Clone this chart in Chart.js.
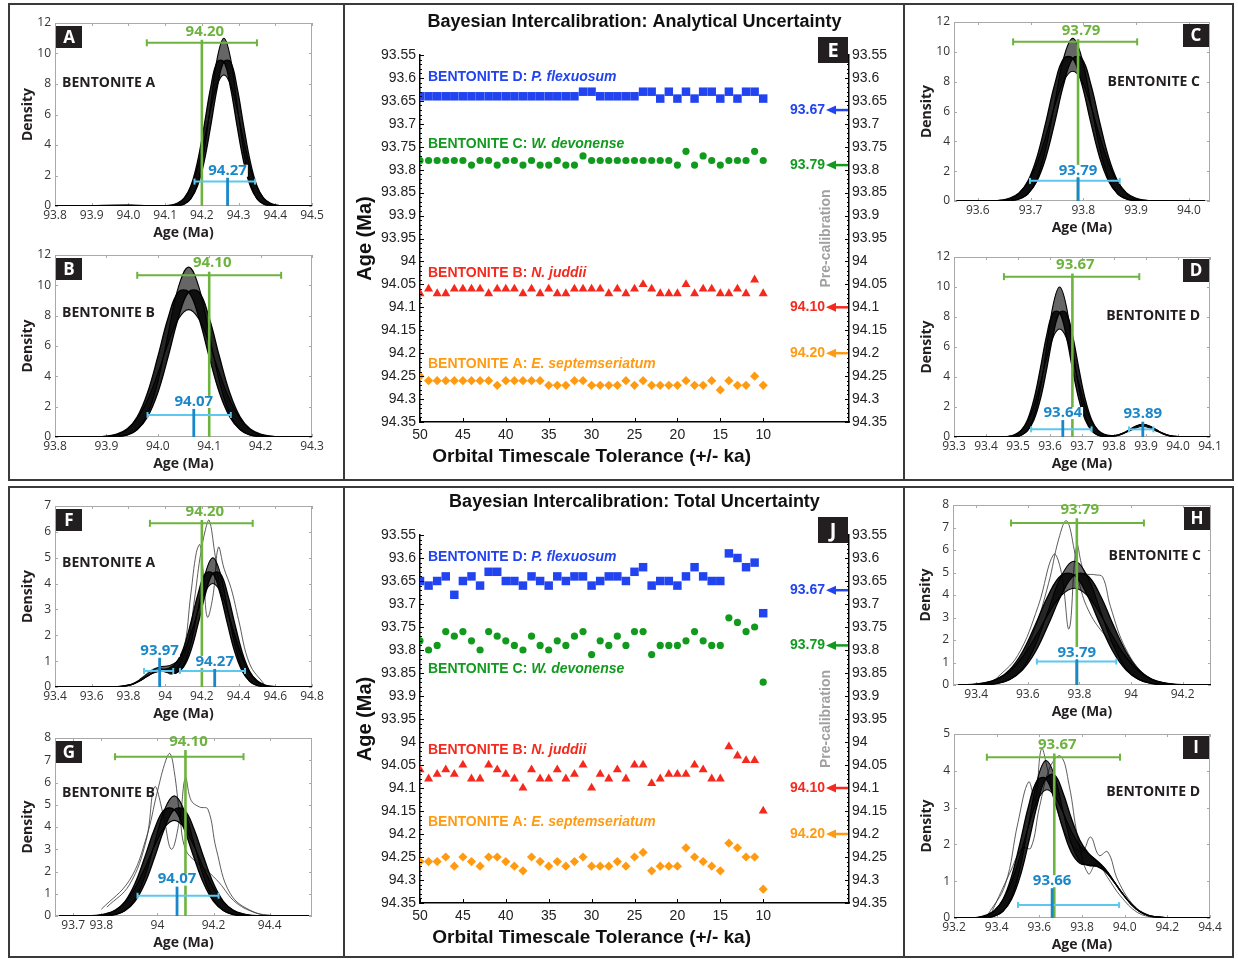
<!DOCTYPE html>
<html>
<head>
<meta charset="utf-8">
<title>Bayesian intercalibration of bentonite ages</title>
<script src="https://cdn.jsdelivr.net/npm/chart.js@4"></script>
<style>
  body { margin: 0; background: #fff; }
  #fig { position: relative; width: 1238px; height: 959px; overflow: hidden; background: #fff; }
  .frame { position: absolute; border: 2px solid #3a3a3a; box-sizing: border-box; }
  #fig canvas { position: absolute; }
</style>
</head>
<body>
<div id="fig">
  <div class="frame" style="left:8px;top:3px;width:337px;height:478px"></div>
  <div class="frame" style="left:343px;top:3px;width:562px;height:478px"></div>
  <div class="frame" style="left:903px;top:3px;width:331px;height:478px"></div>
  <div class="frame" style="left:8px;top:486px;width:337px;height:472px"></div>
  <div class="frame" style="left:343px;top:486px;width:562px;height:472px"></div>
  <div class="frame" style="left:903px;top:486px;width:331px;height:472px"></div>
  <canvas id="panelA"></canvas>
  <canvas id="panelB"></canvas>
  <canvas id="panelC"></canvas>
  <canvas id="panelD"></canvas>
  <canvas id="panelF"></canvas>
  <canvas id="panelG"></canvas>
  <canvas id="panelH"></canvas>
  <canvas id="panelI"></canvas>
  <canvas id="panelE"></canvas>
  <canvas id="panelJ"></canvas>
</div>
<script>
// ---- scatter panels (E, J): age of each bentonite vs orbital timescale tolerance ----
const tolerance = [50,49,48,47,46,45,44,43,42,41,40,39,38,37,36,35,34,33,32,31,30,29,28,27,26,25,24,23,22,21,20,19,18,17,16,15,14,13,12,11,10];
const toleranceTicks = [50,45,40,35,30,25,20,15,10];
const ageTicks = [93.55,93.6,93.65,93.7,93.75,93.8,93.85,93.9,93.95,94,94.05,94.1,94.15,94.2,94.25,94.3,94.35];

// analytical uncertainty (E)
const anaD = [93.64,93.64,93.64,93.64,93.64,93.64,93.64,93.64,93.64,93.64,93.64,93.64,93.64,93.64,93.64,93.64,93.64,93.64,93.64,93.63,93.63,93.64,93.64,93.64,93.64,93.64,93.63,93.63,93.645,93.63,93.645,93.63,93.645,93.63,93.63,93.645,93.63,93.645,93.63,93.63,93.645];
const anaC = [93.78,93.78,93.78,93.78,93.78,93.78,93.79,93.78,93.78,93.79,93.78,93.78,93.79,93.78,93.79,93.79,93.78,93.79,93.79,93.77,93.78,93.78,93.78,93.78,93.78,93.78,93.78,93.78,93.78,93.78,93.79,93.76,93.79,93.77,93.78,93.79,93.78,93.78,93.78,93.76,93.78];
const anaB = [94.07,94.06,94.07,94.07,94.06,94.06,94.06,94.06,94.07,94.06,94.06,94.06,94.07,94.06,94.07,94.06,94.07,94.07,94.06,94.06,94.06,94.06,94.07,94.06,94.07,94.06,94.05,94.06,94.07,94.07,94.07,94.05,94.07,94.06,94.06,94.07,94.07,94.06,94.07,94.04,94.07];
const anaA = [94.25,94.26,94.26,94.26,94.26,94.26,94.26,94.26,94.26,94.27,94.26,94.26,94.26,94.26,94.26,94.27,94.27,94.27,94.26,94.26,94.27,94.27,94.27,94.27,94.26,94.27,94.26,94.27,94.27,94.27,94.27,94.26,94.27,94.27,94.26,94.28,94.26,94.27,94.27,94.25,94.27];

// total uncertainty (J)
const totD = [93.65,93.66,93.65,93.64,93.68,93.65,93.64,93.66,93.63,93.63,93.65,93.65,93.66,93.64,93.65,93.66,93.64,93.65,93.64,93.64,93.66,93.65,93.64,93.64,93.65,93.63,93.62,93.66,93.65,93.65,93.66,93.64,93.62,93.64,93.65,93.65,93.59,93.60,93.62,93.61,93.72];
const totC = [93.78,93.80,93.79,93.76,93.77,93.76,93.78,93.80,93.76,93.77,93.78,93.79,93.80,93.77,93.79,93.80,93.78,93.79,93.77,93.76,93.81,93.78,93.79,93.77,93.79,93.76,93.76,93.81,93.79,93.79,93.79,93.78,93.76,93.78,93.79,93.79,93.73,93.74,93.76,93.75,93.87];
const totB = [94.06,94.08,94.07,94.06,94.07,94.05,94.08,94.08,94.05,94.06,94.07,94.08,94.10,94.06,94.08,94.08,94.06,94.08,94.07,94.05,94.10,94.07,94.08,94.06,94.08,94.05,94.05,94.09,94.08,94.07,94.07,94.07,94.05,94.06,94.08,94.08,94.01,94.03,94.04,94.04,94.15];
const totA = [94.26,94.26,94.26,94.25,94.27,94.25,94.26,94.27,94.25,94.25,94.26,94.27,94.28,94.25,94.26,94.27,94.26,94.27,94.26,94.25,94.27,94.27,94.27,94.26,94.27,94.25,94.24,94.28,94.27,94.27,94.27,94.23,94.25,94.26,94.27,94.28,94.22,94.23,94.25,94.25,94.32];

const seriesNames = ['BENTONITE D: ', 'BENTONITE C: ', 'BENTONITE B: ', 'BENTONITE A: '];
const speciesNames = ['P. flexuosum', 'W. devonense', 'N. juddii', 'E. septemseriatum'];
const preCalibration = [93.67, 93.79, 94.10, 94.20];

// ---- density panels: a few posterior density curves per bentonite ----
const aX = [93.8,94.0,94.08,94.098,94.116,94.134,94.152,94.17,94.188,94.206,94.224,94.242,94.26,94.278,94.296,94.314,94.332,94.35,94.368,94.386,94.404,94.422,94.5];
const aHi = [0,0.04,0,0,0,0.02,0.12,0.48,1.49,3.57,6.67,9.71,11,9.71,6.67,3.57,1.49,0.48,0.12,0.02,0,0,0];
const aLo = [0,0.04,0.01,0.02,0.06,0.2,0.54,1.26,2.51,4.3,6.32,7.96,8.6,7.96,6.32,4.3,2.51,1.26,0.54,0.2,0.06,0.02,0];
const aMidL = [0,0.04,0,0.01,0.04,0.15,0.49,1.31,2.89,5.23,7.77,9.46,9.46,7.77,5.23,2.89,1.31,0.49,0.15,0.04,0.01,0,0];
const aMidR = [0,0.04,0,0,0.01,0.04,0.15,0.49,1.31,2.89,5.23,7.77,9.46,9.46,7.77,5.23,2.89,1.31,0.49,0.15,0.04,0.01,0];

const bX = [93.8,93.88,93.9,93.92,93.94,93.96,93.98,94.0,94.02,94.04,94.06,94.08,94.1,94.12,94.14,94.16,94.18,94.2,94.22,94.24,94.3];
const bHi = [0,0,0,0.02,0.12,0.49,1.52,3.64,6.79,9.88,11.2,9.88,6.79,3.64,1.52,0.49,0.12,0.02,0,0,0];
const bLo = [0,0.02,0.06,0.19,0.53,1.23,2.45,4.2,6.18,7.78,8.4,7.78,6.18,4.2,2.45,1.23,0.53,0.19,0.06,0.02,0];
const bMidL = [0,0.01,0.04,0.15,0.49,1.33,2.92,5.29,7.85,9.56,9.56,7.85,5.29,2.92,1.33,0.49,0.15,0.04,0.01,0,0];
const bMidR = [0,0,0.01,0.04,0.15,0.49,1.33,2.92,5.29,7.85,9.56,9.56,7.85,5.29,2.92,1.33,0.49,0.15,0.04,0.01,0];

const cX = [93.56,93.627,93.644,93.661,93.678,93.695,93.712,93.729,93.746,93.763,93.78,93.797,93.814,93.831,93.848,93.865,93.882,93.899,93.916,93.933,94.03];
const cHi = [0,0,0,0.02,0.12,0.48,1.47,3.54,6.61,9.62,10.9,9.62,6.61,3.54,1.47,0.48,0.12,0.02,0,0,0];
const cLo = [0,0.02,0.06,0.2,0.55,1.27,2.54,4.35,6.4,8.06,8.7,8.06,6.4,4.35,2.54,1.27,0.55,0.2,0.06,0.02,0];
const cMidL = [0,0.01,0.04,0.15,0.49,1.33,2.92,5.29,7.85,9.56,9.56,7.85,5.29,2.92,1.33,0.49,0.15,0.04,0.01,0,0];
const cMidR = [0,0,0.01,0.04,0.15,0.49,1.33,2.92,5.29,7.85,9.56,9.56,7.85,5.29,2.92,1.33,0.49,0.15,0.04,0.01,0];

const dX = [93.3,93.45,93.47,93.49,93.51,93.53,93.55,93.57,93.59,93.61,93.63,93.65,93.67,93.69,93.71,93.73,93.75,93.77,93.79,93.81,93.83,93.85,93.87,93.89,93.91,93.93,93.95,93.97,93.99,94.01,94.1];
const dHi = [0,0,0,0.02,0.11,0.44,1.35,3.25,6.07,8.83,10,8.83,6.07,3.25,1.35,0.44,0.11,0.03,0.03,0.09,0.23,0.42,0.62,0.7,0.62,0.42,0.23,0.09,0.03,0.01,0];
const dLo = [0,0.01,0.05,0.17,0.45,1.05,2.1,3.6,5.29,6.67,7.2,6.67,5.29,3.6,2.1,1.05,0.45,0.18,0.09,0.12,0.28,0.52,0.75,0.85,0.75,0.52,0.28,0.11,0.04,0.01,0];
const dMidL = [0,0.01,0.03,0.13,0.43,1.15,2.53,4.58,6.81,8.29,8.29,6.81,4.58,2.53,1.15,0.43,0.13,0.04,0.05,0.11,0.26,0.49,0.71,0.8,0.71,0.49,0.26,0.11,0.04,0.01,0];
const dMidR = [0,0,0.01,0.03,0.13,0.43,1.15,2.53,4.58,6.81,8.29,8.29,6.81,4.58,2.53,1.15,0.43,0.14,0.07,0.12,0.26,0.49,0.71,0.8,0.71,0.49,0.26,0.11,0.04,0.01,0];

const fX = [93.4,93.7,93.74,93.78,93.82,93.86,93.9,93.94,93.98,94.02,94.06,94.1,94.14,94.18,94.22,94.26,94.3,94.34,94.38,94.42,94.46,94.5,94.54,94.58,94.62,94.8];
const fHi = [0,0,0.01,0.04,0.1,0.23,0.41,0.56,0.61,0.55,0.54,0.84,1.68,3.05,4.42,5.0,4.41,3.03,1.62,0.68,0.22,0.06,0.01,0,0,0];
const fLo = [0,0,0.01,0.05,0.12,0.27,0.49,0.68,0.79,0.82,0.96,1.36,2.07,2.96,3.71,4.0,3.7,2.94,2.0,1.17,0.59,0.25,0.09,0.03,0.01,0];
const fMidL = [0,0,0.01,0.04,0.1,0.23,0.41,0.58,0.67,0.72,0.93,1.5,2.49,3.62,4.4,4.39,3.6,2.43,1.34,0.61,0.23,0.07,0.02,0,0,0];
const fMidR = [0,0,0.01,0.04,0.1,0.23,0.41,0.56,0.62,0.56,0.55,0.77,1.4,2.45,3.61,4.39,4.39,3.6,2.43,1.34,0.61,0.23,0.07,0.02,0,0];
const fOut1X = [93.98,94.06,94.12,94.16,94.19,94.22,94.24,94.27,94.31,94.36,94.42,94.5,94.58];
const fOut1Y = [0.6,0.7,1.6,3.4,5.0,6.1,6.45,5.2,3.4,2.4,1.1,0.2,0];
const fOut2X = [93.86,93.96,94.04,94.1,94.14,94.17,94.19,94.21,94.23,94.26,94.29,94.32,94.36,94.4,94.46,94.54];
const fOut2Y = [0.3,0.75,0.5,1.4,3.6,5.2,5.5,4.2,2.7,3.5,5.4,4.6,3.8,2.6,0.9,0.1];

const gX = [93.65,93.745,93.78,93.815,93.85,93.885,93.92,93.955,93.99,94.025,94.06,94.095,94.13,94.165,94.2,94.235,94.27,94.305,94.34,94.375,94.54];
const gHi = [0,0,0,0.01,0.06,0.24,0.73,1.75,3.28,4.77,5.4,4.77,3.28,1.75,0.73,0.24,0.06,0.01,0,0,0];
const gLo = [0,0.01,0.03,0.1,0.27,0.63,1.26,2.15,3.16,3.98,4.3,3.98,3.16,2.15,1.26,0.63,0.27,0.1,0.03,0.01,0];
const gMidL = [0,0,0.02,0.08,0.25,0.66,1.46,2.64,3.92,4.78,4.78,3.92,2.64,1.46,0.66,0.25,0.08,0.02,0,0,0];
const gMidR = [0,0,0,0.02,0.08,0.25,0.66,1.46,2.64,3.92,4.78,4.78,3.92,2.64,1.46,0.66,0.25,0.08,0.02,0,0];
const gOut1X = [93.8,93.9,93.96,94.0,94.03,94.045,94.06,94.08,94.1,94.14,94.18,94.22,94.28,94.36,94.42];
const gOut1Y = [0.3,1.6,3.5,5.6,7.0,7.3,6.5,4.5,3.0,2.4,2.0,1.5,0.6,0.1,0];
const gOut2X = [93.82,93.9,93.96,93.99,94.02,94.05,94.08,94.1,94.12,94.15,94.18,94.21,94.26,94.34,94.42];
const gOut2Y = [0.4,1.4,3.4,5.8,4.6,3.0,4.4,6.2,5.2,4.9,4.8,3.0,1.0,0.2,0];

const hX = [93.33,93.38,93.43,93.48,93.53,93.58,93.63,93.68,93.73,93.78,93.83,93.88,93.93,93.98,94.03,94.08,94.13,94.18,94.23,94.31];
const hHi = [0,0,0.01,0.06,0.24,0.74,1.79,3.34,4.85,5.5,4.85,3.34,1.79,0.74,0.24,0.06,0.01,0,0,0];
const hLo = [0.01,0.03,0.1,0.27,0.63,1.26,2.15,3.16,3.98,4.3,3.98,3.16,2.15,1.26,0.63,0.27,0.1,0.03,0.01,0];
const hMidL = [0,0.02,0.08,0.25,0.68,1.49,2.7,4.0,4.88,4.88,4.0,2.7,1.49,0.68,0.25,0.08,0.02,0,0,0];
const hMidR = [0,0,0.02,0.08,0.25,0.68,1.49,2.7,4.0,4.88,4.88,4.0,2.7,1.49,0.68,0.25,0.08,0.02,0,0];
const hOut1X = [93.45,93.55,93.62,93.68,93.72,93.75,93.78,93.8,93.84,93.9,93.96,94.04,94.12,94.2];
const hOut1Y = [0.1,0.8,2.3,4.5,6.5,7.3,6.0,4.5,3.2,2.2,1.5,0.5,0.1,0];
const hOut2X = [93.47,93.56,93.64,93.7,93.73,93.76,93.79,93.82,93.86,93.89,93.92,93.98,94.06,94.15];
const hOut2Y = [0.2,1.3,3.5,5.8,5.0,2.5,6.2,5.0,4.9,4.8,3.5,1.6,0.4,0];

const iX = [93.2,93.27,93.31,93.35,93.39,93.43,93.47,93.51,93.55,93.59,93.63,93.67,93.71,93.75,93.79,93.83,93.87,93.91,93.95,93.99,94.03,94.07,94.11,94.15,94.19,94.4];
const iHi = [0,0,0,0.01,0.05,0.18,0.57,1.36,2.56,3.74,4.28,3.89,2.93,2.02,1.55,1.43,1.4,1.26,0.98,0.66,0.38,0.18,0.07,0.03,0.01,0];
const iLo = [0,0.01,0.02,0.08,0.21,0.5,0.99,1.7,2.51,3.18,3.48,3.33,2.88,2.36,1.97,1.75,1.56,1.33,1.0,0.67,0.38,0.18,0.07,0.03,0.01,0];
const iMidL = [0,0,0.01,0.06,0.19,0.51,1.13,2.05,3.05,3.74,3.79,3.22,2.43,1.79,1.49,1.44,1.41,1.26,0.98,0.66,0.38,0.18,0.07,0.03,0.01,0];
const iMidR = [0,0,0,0.01,0.06,0.19,0.51,1.13,2.06,3.07,3.79,3.89,3.42,2.71,2.11,1.76,1.54,1.31,0.99,0.66,0.38,0.18,0.07,0.03,0.01,0];
const iOut1X = [93.36,93.44,93.5,93.55,93.58,93.61,93.64,93.68,93.74,93.8,93.84,93.88,93.92,93.97,94.05,94.14];
const iOut1Y = [0.1,0.9,2.6,3.7,3.2,4.6,4.0,3.0,2.1,1.8,2.2,1.7,1.8,1.0,0.3,0];
const iOut2X = [93.38,93.46,93.52,93.56,93.6,93.65,93.7,93.74,93.78,93.83,93.87,93.92,93.98,94.06,94.14];
const iOut2Y = [0.2,1.2,1.9,1.9,3.0,4.1,4.4,3.6,2.2,1.2,1.5,1.1,0.6,0.15,0];

// pre-calibration age (green) and posterior median (blue) with their ranges
const annA = {pre: 94.20, preRange: [94.05, 94.35], preY: 10.7, preTop: 10.9, post: [94.27], postTop: [1.85], postRange: [[94.18, 94.345]], postY: 1.6};
const annB = {pre: 94.10, preRange: [93.96, 94.24], preY: 10.66, preTop: 10.9, post: [94.07], postTop: [1.85], postRange: [[93.98, 94.142]], postY: 1.45};
const annC = {pre: 93.79, preRange: [93.667, 93.902], preY: 10.67, preTop: 10.85, post: [93.79], postTop: [1.55], postRange: [[93.699, 93.869]], postY: 1.35};
const annD = {pre: 93.67, preRange: [93.456, 93.879], preY: 10.69, preTop: 10.9, post: [93.64, 93.89], postTop: [1.13, 1.02], postRange: [[93.541, 93.73], [93.847, 93.923]], postY: 0.51};
const annF = {pre: 94.20, preRange: [93.917, 94.477], preY: 6.33, preTop: 6.46, post: [93.97, 94.27], postTop: [1.13, 0.7], postRange: [[93.885, 94.044], [94.081, 94.435]], postY: 0.62};
const annG = {pre: 94.10, preRange: [93.849, 94.307], preY: 7.16, preTop: 7.46, post: [94.07], postTop: [1.32], postRange: [[93.929, 94.218]], postY: 0.91};
const annH = {pre: 93.79, preRange: [93.535, 94.05], preY: 7.2, preTop: 7.41, post: [93.79], postTop: [1.11], postRange: [[93.635, 93.943]], postY: 1.04};
const annI = {pre: 93.67, preRange: [93.354, 93.978], preY: 4.37, preTop: 4.47, post: [93.66], postTop: [0.81], postRange: [[93.5, 93.974]], postY: 0.35};

// ---- styles ----
const GREEN = '#6db33f', BLUE = '#1a87c9', LIGHTBLUE = '#5cc7ef', INK = '#231f20';
const SANS = "'Open Sans', 'Noto Sans', sans-serif";
const HELV = "'Liberation Sans', Arial, sans-serif";
const seriesColors = ['#2143f0', '#129a1e', '#f5291d', '#ff9b12'];

const oneDec = v => v.toFixed(1);
const trimDec = v => String(parseFloat(v.toFixed(2)));

const panels = {
  panelA: {box: {x: 55, y: 23, w: 257, h: 183}, xMin: 93.8, xMax: 94.5, yMax: 12, xTicks: [93.8,93.9,94.0,94.1,94.2,94.3,94.4,94.5], yTicks: [0,2,4,6,8,10,12], fmt: oneDec,
    letter: 'A', side: 'left', name: 'BENTONITE A', nameDy: 60, xs: aX, hi: aHi, lo: aLo, midL: aMidL, midR: aMidR, extras: [], ann: annA},
  panelB: {box: {x: 55, y: 255, w: 257, h: 182}, xMin: 93.8, xMax: 94.3, yMax: 12, xTicks: [93.8,93.9,94.0,94.1,94.2,94.3], yTicks: [0,2,4,6,8,10,12], fmt: oneDec,
    letter: 'B', side: 'left', name: 'BENTONITE B', nameDy: 58, xs: bX, hi: bHi, lo: bLo, midL: bMidL, midR: bMidR, extras: [], ann: annB},
  panelC: {box: {x: 954, y: 22, w: 256, h: 179}, xMin: 93.555, xMax: 94.04, yMax: 12, xTicks: [93.6,93.7,93.8,93.9,94.0], yTicks: [0,2,4,6,8,10,12], fmt: oneDec,
    letter: 'C', side: 'right', name: 'BENTONITE C', nameDy: 60, xs: cX, hi: cHi, lo: cLo, midL: cMidL, midR: cMidR, extras: [], ann: annC},
  panelD: {box: {x: 954, y: 257, w: 256, h: 180}, xMin: 93.3, xMax: 94.1, yMax: 12, xTicks: [93.3,93.4,93.5,93.6,93.7,93.8,93.9,94.0,94.1], yTicks: [0,2,4,6,8,10,12], fmt: oneDec,
    letter: 'D', side: 'right', name: 'BENTONITE D', nameDy: 59, xs: dX, hi: dHi, lo: dLo, midL: dMidL, midR: dMidR, extras: [], ann: annD},
  panelF: {box: {x: 55, y: 506, w: 257, h: 181}, xMin: 93.4, xMax: 94.8, yMax: 7, xTicks: [93.4,93.6,93.8,94,94.2,94.4,94.6,94.8], yTicks: [0,1,2,3,4,5,6,7], fmt: trimDec,
    letter: 'F', side: 'left', name: 'BENTONITE A', nameDy: 57, xs: fX, hi: fHi, lo: fLo, midL: fMidL, midR: fMidR, extras: [[fOut1X, fOut1Y], [fOut2X, fOut2Y]], ann: annF},
  panelG: {box: {x: 55, y: 738, w: 257, h: 178}, xMin: 93.635, xMax: 94.551, yMax: 8, xTicks: [93.7,93.8,94,94.2,94.4], yTicks: [0,1,2,3,4,5,6,7,8], fmt: trimDec,
    letter: 'G', side: 'left', name: 'BENTONITE B', nameDy: 55, xs: gX, hi: gHi, lo: gLo, midL: gMidL, midR: gMidR, extras: [[gOut1X, gOut1Y], [gOut2X, gOut2Y]], ann: annG},
  panelH: {box: {x: 953, y: 505, w: 258, h: 180}, xMin: 93.31, xMax: 94.31, yMax: 8, xTicks: [93.4,93.6,93.8,94,94.2], yTicks: [0,1,2,3,4,5,6,7,8], fmt: trimDec,
    letter: 'H', side: 'right', name: 'BENTONITE C', nameDy: 51, xs: hX, hi: hHi, lo: hLo, midL: hMidL, midR: hMidR, extras: [[hOut1X, hOut1Y], [hOut2X, hOut2Y]], ann: annH},
  panelI: {box: {x: 954, y: 734, w: 256, h: 184}, xMin: 93.2, xMax: 94.4, yMax: 5, xTicks: [93.2,93.4,93.6,93.8,94.0,94.2,94.4], yTicks: [0,1,2,3,4,5], fmt: oneDec,
    letter: 'I', side: 'right', name: 'BENTONITE D', nameDy: 58, xs: iX, hi: iHi, lo: iLo, midL: iMidL, midR: iMidR, extras: [[iOut1X, iOut1Y], [iOut2X, iOut2Y]], ann: annI}
};

const scatterPanels = {
  panelE: {top: 6, height: 472, xAxisH: 56, letter: 'E', title: 'Bayesian Intercalibration: Analytical Uncertainty',
    series: [anaD, anaC, anaB, anaA], labelY: [93.598, 93.744, 94.025, 94.224]},
  panelJ: {top: 486, height: 470, xAxisH: 53, letter: 'J', title: 'Bayesian Intercalibration: Total Uncertainty',
    series: [totD, totC, totB, totA], labelY: [93.598, 93.841, 94.017, 94.174]}
};

function seg(ctx, x1, y1, x2, y2) {
  ctx.beginPath(); ctx.moveTo(x1, y1); ctx.lineTo(x2, y2); ctx.stroke();
}

function letterBox(ctx, letter, x, y, w, h, size) {
  ctx.fillStyle = INK;
  ctx.fillRect(x, y, w, h);
  ctx.fillStyle = '#fff';
  ctx.font = `bold ${size}px ${SANS}`;
  ctx.textAlign = 'center'; ctx.textBaseline = 'middle';
  ctx.fillText(letter, x + w / 2, y + h / 2 + 1);
}

// frame, inward ticks, pre-calibration / posterior markers and labels
const densityDecor = {
  id: 'densityDecor',
  beforeDatasetsDraw(chart) {
    const {ctx, chartArea: a, scales: {x, y}} = chart;
    ctx.save();
    ctx.strokeStyle = '#a9a9a9'; ctx.lineWidth = 1;
    ctx.strokeRect(a.left + 0.5, a.top + 0.5, a.width - 1, a.height - 1);
    ctx.beginPath();
    x.ticks.forEach(t => {
      const px = Math.round(x.getPixelForValue(t.value)) + 0.5;
      ctx.moveTo(px, a.bottom); ctx.lineTo(px, a.bottom - 3);
      ctx.moveTo(px, a.top); ctx.lineTo(px, a.top + 3);
    });
    y.ticks.forEach(t => {
      const py = Math.round(y.getPixelForValue(t.value)) + 0.5;
      ctx.moveTo(a.left, py); ctx.lineTo(a.left + 3, py);
      ctx.moveTo(a.right, py); ctx.lineTo(a.right - 3, py);
    });
    ctx.stroke();
    ctx.restore();
  },
  afterDatasetsDraw(chart) {
    const p = panels[chart.canvas.id];
    const an = p.ann;
    const {ctx, chartArea: a, scales: {x, y}} = chart;
    ctx.save();
    const y0 = y.getPixelForValue(0);

    // pre-calibration age: vertical line, range bar, label
    const gx = x.getPixelForValue(an.pre);
    const gTop = y.getPixelForValue(an.preTop);
    const gBar = y.getPixelForValue(an.preY);
    ctx.strokeStyle = GREEN;
    ctx.lineWidth = 2.6;
    seg(ctx, gx, y0, gx, gTop);
    ctx.lineWidth = 2;
    const gl = x.getPixelForValue(an.preRange[0]), gr = x.getPixelForValue(an.preRange[1]);
    seg(ctx, gl, gBar, gr, gBar);
    seg(ctx, gl, gBar - 3.5, gl, gBar + 3.5);
    seg(ctx, gr, gBar - 3.5, gr, gBar + 3.5);
    ctx.fillStyle = GREEN;
    ctx.font = `bold 15px ${SANS}`;
    ctx.textAlign = 'center'; ctx.textBaseline = 'bottom';
    ctx.fillText(an.pre.toFixed(2), gx + 3, gTop - 1);

    // posterior ranges
    const bBar = y.getPixelForValue(an.postY);
    ctx.strokeStyle = LIGHTBLUE; ctx.lineWidth = 2;
    an.postRange.forEach(([lo, hi]) => {
      const l = x.getPixelForValue(lo), r = x.getPixelForValue(hi);
      seg(ctx, l, bBar, r, bBar);
      seg(ctx, l, bBar - 3, l, bBar + 3);
      seg(ctx, r, bBar - 3, r, bBar + 3);
    });
    // posterior medians with labels on a white ground
    an.post.forEach((v, i) => {
      const bx = x.getPixelForValue(v);
      const bTop = y.getPixelForValue(an.postTop[i]);
      const txt = v.toFixed(2);
      ctx.font = `bold 15px ${SANS}`;
      const w = ctx.measureText(txt).width;
      ctx.fillStyle = '#fff';
      ctx.fillRect(bx - w / 2 - 1, bTop - 13, w + 2, 12);
      ctx.fillStyle = BLUE;
      ctx.textAlign = 'center'; ctx.textBaseline = 'bottom';
      ctx.fillText(txt, bx, bTop);
      ctx.strokeStyle = BLUE; ctx.lineWidth = 2.8;
      seg(ctx, bx, y0, bx, bTop);
    });

    // panel letter and bentonite name
    if (p.side === 'left') {
      letterBox(ctx, p.letter, a.left + 1, a.top + 3, 26, 22, 17);
      ctx.textAlign = 'left';
    } else {
      letterBox(ctx, p.letter, a.right - 27, a.top + 2, 26, 23, 17);
      ctx.textAlign = 'right';
    }
    ctx.fillStyle = INK;
    ctx.font = `bold 14px ${SANS}`;
    ctx.textBaseline = 'middle';
    ctx.fillText(p.name, p.side === 'left' ? a.left + 7 : a.right - 10, a.top + p.nameDy);
    ctx.restore();
  }
};

function buildDensity(id) {
  const p = panels[id];
  const cv = document.getElementById(id);
  const padL = 45, padT = 18, padR = 15, padB = 40;
  cv.width = p.box.w + padL + padR;
  cv.height = p.box.h + padT + padB;
  cv.style.left = (p.box.x - padL) + 'px';
  cv.style.top = (p.box.y - padT) + 'px';

  // smooth bezier curves (tension) give rounded peaks between samples
  const line = (xs, ys, width, color) => ({
    data: xs.map((v, i) => ({x: v, y: ys[i]})),
    borderColor: color, borderWidth: width, pointRadius: 0,
    tension: 0.4, fill: false
  });
  // the shifted pair makes the dense black flank band; lo..hi gives the dark fan of peaks
  const datasets = [
    line(p.xs, p.midL, 1.3, '#000'),
    Object.assign(line(p.xs, p.midR, 1.3, '#000'), {fill: '-1', backgroundColor: 'rgba(0,0,0,0.85)'}),
    line(p.xs, p.lo, 1.1, '#000'),
    Object.assign(line(p.xs, p.hi, 1.1, '#000'), {fill: '-1', backgroundColor: 'rgba(0,0,0,0.6)'}),
    ...p.extras.map(([xs, ys]) => line(xs, ys, 0.8, '#333'))
  ];

  new Chart(cv, {
    type: 'line',
    data: {datasets},
    options: {
      responsive: false, animation: false, devicePixelRatio: 1,
      layout: {padding: {left: 0, top: padT, right: padR, bottom: 0}},
      plugins: {legend: {display: false}, tooltip: {enabled: false}},
      scales: {
        x: {
          type: 'linear', min: p.xMin, max: p.xMax,
          afterBuildTicks: s => { s.ticks = p.xTicks.map(v => ({value: v})); },
          afterFit: s => { s.height = padB; },
          grid: {display: false, drawTicks: false}, border: {display: false},
          ticks: {callback: v => p.fmt(v), color: '#333', font: {family: SANS, size: 12}, padding: 2, maxRotation: 0, autoSkip: false},
          title: {display: true, text: 'Age (Ma)', color: INK, font: {family: SANS, size: 14, weight: 'bold'}, padding: {top: 0, bottom: 5}}
        },
        y: {
          type: 'linear', min: 0, max: p.yMax,
          afterBuildTicks: s => { s.ticks = p.yTicks.map(v => ({value: v})); },
          afterFit: s => { s.width = padL; },
          grid: {display: false, drawTicks: false}, border: {display: false},
          ticks: {color: '#333', font: {family: SANS, size: 12}, padding: 4, autoSkip: false},
          title: {display: true, text: 'Density', color: INK, font: {family: SANS, size: 14, weight: 'bold'}, padding: {top: 10, bottom: 0}}
        }
      }
    },
    plugins: [densityDecor]
  });
}

// titles, species labels, pre-calibration arrows and minor ticks for E and J
const scatterDecor = {
  id: 'scatterDecor',
  afterDraw(chart) {
    const cfg = scatterPanels[chart.canvas.id];
    const {ctx, chartArea: a, scales: {x, y}} = chart;
    ctx.save();

    // inward ticks on the three axes
    ctx.strokeStyle = '#000'; ctx.lineWidth = 1;
    ctx.beginPath();
    for (let i = 0; i <= 80; i++) {
      const py = Math.round(y.getPixelForValue(93.55 + i * 0.01)) + 0.5;
      const len = i % 5 === 0 ? 4 : 2;
      ctx.moveTo(a.left, py); ctx.lineTo(a.left + len, py);
      ctx.moveTo(a.right, py); ctx.lineTo(a.right - len, py);
    }
    toleranceTicks.forEach(t => {
      const px = Math.round(x.getPixelForValue(t)) + 0.5;
      ctx.moveTo(px, a.bottom); ctx.lineTo(px, a.bottom - 4);
    });
    ctx.stroke();

    // panel title and x axis title
    ctx.fillStyle = '#111';
    ctx.textAlign = 'center'; ctx.textBaseline = 'middle';
    ctx.font = `bold 18px ${HELV}`;
    ctx.fillText(cfg.title, (a.left + a.right) / 2, a.top - 33);
    ctx.font = `bold 19px ${HELV}`;
    ctx.fillText('Orbital Timescale Tolerance (+/- ka)', x.getPixelForValue(30), a.bottom + 35);

    // series names
    ctx.textAlign = 'left';
    seriesNames.forEach((name, i) => {
      const px = a.left + 8, py = y.getPixelForValue(cfg.labelY[i]);
      ctx.fillStyle = seriesColors[i];
      ctx.font = `bold 14px ${HELV}`;
      ctx.fillText(name, px, py);
      const w = ctx.measureText(name).width;
      ctx.font = `italic bold 14px ${HELV}`;
      ctx.fillText(speciesNames[i], px + w, py);
    });

    // pre-calibration ages as arrows on the right axis
    preCalibration.forEach((v, i) => {
      const py = y.getPixelForValue(v);
      ctx.strokeStyle = seriesColors[i]; ctx.fillStyle = seriesColors[i];
      ctx.lineWidth = 2.5;
      seg(ctx, a.right - 1, py, a.right - 16, py);
      ctx.beginPath();
      ctx.moveTo(a.right - 23, py);
      ctx.lineTo(a.right - 13, py - 4.5);
      ctx.lineTo(a.right - 13, py + 4.5);
      ctx.closePath(); ctx.fill();
      ctx.font = `bold 14px ${HELV}`;
      ctx.textAlign = 'right';
      ctx.fillText(v.toFixed(2), a.right - 24, py);
    });

    // vertical "Pre-calibration" note
    ctx.save();
    ctx.translate(a.right - 23, (a.top + a.bottom) / 2);
    ctx.rotate(-Math.PI / 2);
    ctx.fillStyle = '#a0a0a0';
    ctx.font = `bold 14px ${HELV}`;
    ctx.textAlign = 'center';
    ctx.fillText('Pre-calibration', 0, 0);
    ctx.restore();

    letterBox(ctx, cfg.letter, a.right - 31, a.top - 18, 30, 26, 20);
    ctx.restore();
  }
};

function buildScatter(id) {
  const cfg = scatterPanels[id];
  const cv = document.getElementById(id);
  cv.width = 556; cv.height = cfg.height;
  cv.style.left = '345px'; cv.style.top = cfg.top + 'px';

  const styles = [['rect', 6], ['circle', 3.6], ['triangle', 5.2], ['rectRot', 4.6]];
  const datasets = cfg.series.map((ys, i) => ({
    data: tolerance.map((t, k) => ({x: t, y: ys[k]})),
    pointStyle: styles[i][0], pointRadius: styles[i][1],
    pointBackgroundColor: seriesColors[i], pointBorderWidth: 0, showLine: false
  }));
  const tickFont = {family: HELV, size: 14};
  const yAxis = (position, width, padding) => ({
    type: 'linear', position, min: 93.55, max: 94.35, reverse: true,
    afterBuildTicks: s => { s.ticks = ageTicks.map(v => ({value: v})); },
    afterFit: s => { s.width = width; },
    grid: {display: false, drawTicks: false}, border: {display: true, color: '#000', width: 1.5},
    ticks: {callback: v => trimDec(v), color: '#222', font: tickFont, padding, autoSkip: false}
  });

  new Chart(cv, {
    type: 'scatter',
    data: {datasets},
    options: {
      responsive: false, animation: false, devicePixelRatio: 1,
      layout: {padding: {left: 0, top: 49, right: 0, bottom: 0}},
      plugins: {legend: {display: false}, tooltip: {enabled: false}},
      scales: {
        x: {
          type: 'linear', min: 0, max: 50, reverse: true,
          afterBuildTicks: s => { s.ticks = toleranceTicks.map(v => ({value: v})); },
          afterFit: s => { s.height = cfg.xAxisH; },
          grid: {display: false, drawTicks: false}, border: {display: true, color: '#000', width: 1.5},
          ticks: {color: '#222', font: tickFont, padding: 5, maxRotation: 0, autoSkip: false}
        },
        y: Object.assign(yAxis('left', 75, 4), {
          title: {display: true, text: 'Age (Ma)', color: '#111', font: {family: HELV, size: 20, weight: 'bold'}, padding: {top: 8, bottom: 0}}
        }),
        y2: yAxis('right', 52, 3)
      }
    },
    plugins: [scatterDecor]
  });
}

Object.keys(panels).forEach(buildDensity);
Object.keys(scatterPanels).forEach(buildScatter);
</script>
</body>
</html>
